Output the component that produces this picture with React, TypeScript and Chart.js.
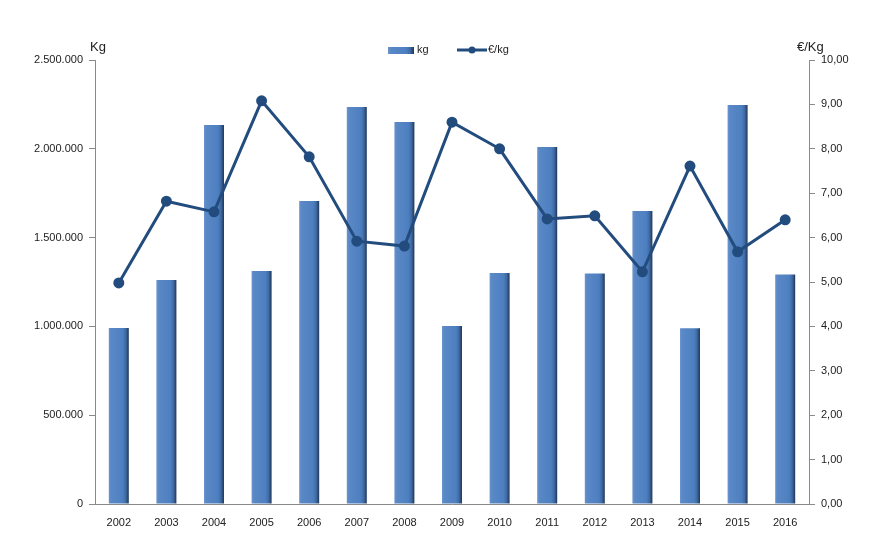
import React, { useEffect, useRef } from "react";
import { Chart, registerables } from "chart.js";

Chart.register(...registerables);

const years = ["2002","2003","2004","2005","2006","2007","2008","2009","2010","2011","2012","2013","2014","2015","2016"];
const kg = [991000, 1261000, 2134000, 1312000, 1706000, 2235000, 2151000, 1002000, 1300000, 2010000, 1298000, 1650000, 990000, 2247000, 1292000];
const eurPerKg = [4.98, 6.82, 6.58, 9.08, 7.82, 5.92, 5.81, 8.60, 8.00, 6.42, 6.49, 5.23, 7.61, 5.68, 6.40];
const leftTitle = "Kg";
const rightTitle = "€/Kg";
const barLabel = "kg";
const lineLabel = "€/kg";

const FONT = "'Liberation Sans', Arial, sans-serif";
const LINE_COLOR = "#234C7E";
const AXIS_COLOR = "#8a8a8a";

function barGradient(ctx: CanvasRenderingContext2D, x0: number, x1: number) {
  const g = ctx.createLinearGradient(x0, 0, x1, 0);
  g.addColorStop(0, "#6a93cc");
  g.addColorStop(0.12, "#5a88c6");
  g.addColorStop(0.7, "#4d7fc0");
  g.addColorStop(0.85, "#3f6aa3");
  g.addColorStop(1, "#1f3557");
  return g;
}

const decorPlugin = {
  id: "decor",
  beforeDatasetsDraw(chart: any) {
    const ctx = chart.ctx;
    const meta = chart.getDatasetMeta(0);
    meta.data.forEach((bar: any) => {
      const w = bar.width;
      const opts = { ...bar.options, backgroundColor: barGradient(ctx, bar.x - w / 2, bar.x + w / 2) };
      bar.options = opts;
    });
  },
  afterDraw(chart: any) {
    const ctx = chart.ctx;
    ctx.save();
    ctx.fillStyle = "#222";
    ctx.font = `13px ${FONT}`;
    ctx.textBaseline = "middle";
    ctx.textAlign = "left";
    ctx.fillText(leftTitle, 90, 47);
    ctx.fillText(rightTitle, 797, 47);
    // legend
    ctx.font = `11px ${FONT}`;
    const ly = 50;
    ctx.fillStyle = barGradient(ctx, 388, 414);
    ctx.fillRect(388, ly - 3, 26, 7);
    ctx.fillStyle = "#222";
    ctx.fillText(barLabel, 417, ly);
    ctx.strokeStyle = LINE_COLOR;
    ctx.lineWidth = 3;
    ctx.beginPath();
    ctx.moveTo(457, ly);
    ctx.lineTo(487, ly);
    ctx.stroke();
    ctx.fillStyle = LINE_COLOR;
    ctx.beginPath();
    ctx.arc(472, ly, 3.5, 0, Math.PI * 2);
    ctx.fill();
    ctx.fillStyle = "#222";
    ctx.fillText(lineLabel, 488, ly);
    ctx.restore();
  },
};

export default function App() {
  const ref = useRef<HTMLCanvasElement>(null);
  useEffect(() => {
    if (!ref.current) return;
    const chart = new Chart(ref.current, {
      type: "bar",
      data: {
        labels: years,
        datasets: [
          {
            type: "bar",
            label: barLabel,
            data: kg,
            yAxisID: "y",
            backgroundColor: () => "#4F81BD",
            barPercentage: 0.42,
            categoryPercentage: 1,
            order: 1,
          } as any,
          {
            type: "line",
            label: lineLabel,
            data: eurPerKg,
            yAxisID: "y1",
            borderColor: LINE_COLOR,
            backgroundColor: LINE_COLOR,
            borderWidth: 3,
            pointRadius: 4,
            pointBackgroundColor: LINE_COLOR,
            pointBorderColor: LINE_COLOR,
            tension: 0,
            order: 0,
          } as any,
        ],
      },
      options: {
        animation: false,
        responsive: true,
        maintainAspectRatio: false,
        layout: { padding: { top: 60, left: 0, right: 0, bottom: 0 } },
        plugins: { legend: { display: false }, tooltip: { enabled: false } },
        scales: {
          x: {
            grid: { display: false, drawTicks: false },
            border: { color: AXIS_COLOR, width: 1 },
            ticks: { color: "#222", font: { family: FONT, size: 11 }, padding: 12, maxRotation: 0 },
            afterFit(s: any) { s.height = 56; },
          },
          y: {
            position: "left",
            min: 0,
            max: 2500000,
            ticks: {
              stepSize: 500000,
              color: "#222",
              font: { family: FONT, size: 11 },
              padding: 6,
              callback: (v: any) => Number(v).toLocaleString("de-DE"),
            },
            grid: { drawOnChartArea: false, drawTicks: true, tickLength: 6, color: AXIS_COLOR },
            border: { color: AXIS_COLOR, width: 1 },
            afterFit(s: any) { s.width = 95; },
          },
          y1: {
            position: "right",
            min: 0,
            max: 10,
            ticks: {
              stepSize: 1,
              color: "#222",
              font: { family: FONT, size: 11 },
              padding: 6,
              callback: (v: any) => Number(v).toFixed(2).replace(".", ","),
            },
            grid: { drawOnChartArea: false, drawTicks: true, tickLength: 6, color: AXIS_COLOR },
            border: { color: AXIS_COLOR, width: 1 },
            afterFit(s: any) { s.width = 83; },
          },
        },
      },
      plugins: [decorPlugin],
    });
    return () => chart.destroy();
  }, []);
  return (
    <div style={{ position: "fixed", left: 0, top: 0, width: 892, height: 560, background: "#fff" }}>
      <canvas ref={ref} />
    </div>
  );
}
